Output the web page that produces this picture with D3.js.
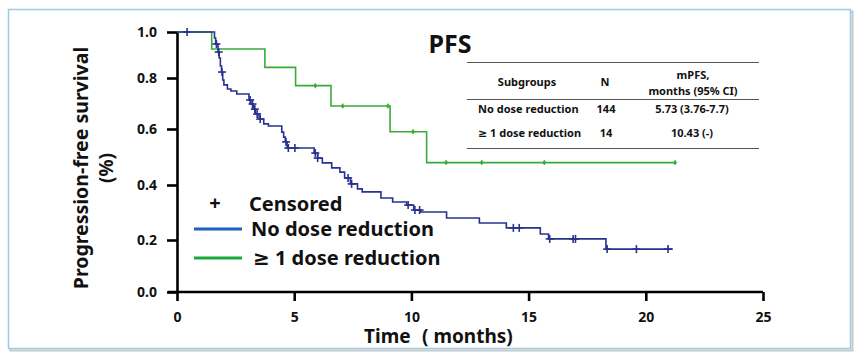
<!DOCTYPE html>
<html>
<head>
<meta charset="utf-8">
<script src="https://cdn.jsdelivr.net/npm/d3@7"></script>
<style>
  body { margin: 0; background: #fff; }
  text { font-family: "Noto Sans", "DejaVu Sans", sans-serif; font-weight: bold; fill: #111; }
  .tbl text { font-size: 11px; }
</style>
</head>
<body>
<div id="chart"></div>
<script>
// Kaplan-Meier steps: time (months) and survival
const noRedTimes = [0, 1.6, 1.65, 1.75, 1.8, 1.85, 1.9, 1.95, 2.0, 2.15, 2.3, 2.55, 3.07, 3.15, 3.25, 3.35, 3.5, 3.7, 3.9,
  4.47, 4.55, 4.62, 4.7, 5.85, 6.0, 6.2, 6.6, 6.95, 7.15, 7.4, 7.7, 7.9, 8.7, 9.2, 9.8, 10.1, 10.4, 11.5, 12.9,
  14.05, 15.5, 15.85, 18.3, 21.15];
const noRedSurv = [1.0, 0.974, 0.948, 0.913, 0.887, 0.852, 0.826, 0.792, 0.773, 0.757, 0.749, 0.737, 0.714, 0.698, 0.678,
  0.659, 0.639, 0.62, 0.612, 0.589, 0.571, 0.554, 0.532, 0.514, 0.496, 0.479, 0.461, 0.446, 0.425, 0.404, 0.386,
  0.375, 0.353, 0.338, 0.327, 0.309, 0.302, 0.28, 0.262, 0.244, 0.222, 0.204, 0.165, 0.165];
const noRedCensor = [0.43, 1.68, 1.78, 1.92, 3.12, 3.22, 3.32, 3.42, 3.55, 4.65, 4.75, 5.03, 5.9, 6.0, 7.3, 7.45,
  9.86, 10.15, 10.35, 14.35, 14.6, 15.9, 16.9, 17.0, 18.35, 19.6, 20.95];

const redTimes = [0, 1.48, 3.75, 5.06, 6.57, 9.09, 10.65, 21.25];
const redSurv = [1.0, 0.926, 0.846, 0.77, 0.69, 0.59, 0.48, 0.48];
const redCensor = [5.9, 7.07, 9.0, 10.07, 11.48, 13.0, 15.67, 21.25];

const xTicks = [0, 5, 10, 15, 20, 25];
const yTicks = [0, 0.2, 0.4, 0.6, 0.8, 1.0];

const tableHead = ["Subgroups", "N", "mPFS,", "months (95% CI)"];
const tableGroups = ["No dose reduction", "\u2265 1 dose reduction"];
const tableN = ["144", "14"];
const tableMPFS = ["5.73 (3.76-7.7)", "10.43 (-)"];

const legendLabels = ["Censored", "No dose reduction", "\u2265 1 dose reduction"];

const W = 865, H = 363;
const navy = "#26338f", green = "#3aaa3a";

const svg = d3.select("#chart").append("svg")
    .attr("width", W).attr("height", H);

// frame with soft shadow
svg.append("rect")
    .attr("x", 10.5).attr("y", 11.5).attr("width", 842).attr("height", 339)
    .attr("fill", "none").attr("stroke", "#c8c8c8").attr("stroke-width", 2);
svg.append("rect")
    .attr("x", 8.5).attr("y", 9.5).attr("width", 842).attr("height", 339)
    .attr("fill", "#fff").attr("stroke", "#9ccbe8").attr("stroke-width", 1.5);

// scales (y axis in the source is slightly uneven, so map each tick)
const x = d3.scaleLinear().domain([0, 25]).range([177, 763]);
const y = d3.scaleLinear().domain(yTicks).range([292, 240, 185, 129, 78, 32]);

// axes
const xAxis = svg.append("g")
    .attr("transform", "translate(0,292)")
    .call(d3.axisBottom(x).tickValues(xTicks).tickSize(9).tickSizeOuter(0).tickPadding(11));
const yAxis = svg.append("g")
    .attr("transform", "translate(177,0)")
    .call(d3.axisLeft(y).tickValues(yTicks).tickSize(10).tickSizeOuter(0).tickPadding(10)
      .tickFormat(d3.format(".1f")));
[xAxis, yAxis].forEach(a => {
  a.selectAll("path, line").attr("stroke", "#000").attr("stroke-width", 2.6);
  a.selectAll("text").style("font-size", "14px").attr("fill", "#111");
});
xAxis.select(".domain").attr("d", "M168,0H763");

// axis titles ("10" tick sits in the gap between the two parts)
svg.append("text")
    .attr("x", 364).attr("y", 343)
    .style("font-size", "19px")
    .text("Time");
svg.append("text")
    .attr("x", 422).attr("y", 343)
    .style("font-size", "19px")
    .text("( months)");
svg.append("text")
    .attr("transform", "translate(88,168) rotate(-90)")
    .attr("text-anchor", "middle")
    .style("font-size", "19.5px")
    .text("Progression-free survival");
svg.append("text")
    .attr("transform", "translate(113,168) rotate(-90)")
    .attr("text-anchor", "middle")
    .style("font-size", "19px")
    .text("(%)");

// title
svg.append("text")
    .attr("x", 450).attr("y", 53)
    .attr("text-anchor", "middle")
    .style("font-size", "25px")
    .text("PFS");

// survival curves
const line = d3.line()
    .x(d => x(d[0]))
    .y(d => y(d[1]))
    .curve(d3.curveStepAfter);

function survAt(times, surv, t) {
  const i = d3.bisectRight(times, t) - 1;
  return surv[Math.max(0, i)];
}

function drawCurve(times, surv, censor, color, plus) {
  svg.append("path")
      .datum(times.map((t, i) => [t, surv[i]]))
      .attr("fill", "none")
      .attr("stroke", color)
      .attr("stroke-width", 1.6)
      .attr("d", line);
  const marks = svg.append("g").selectAll("g")
      .data(censor)
      .enter().append("g")
      .attr("transform", t => `translate(${x(t)},${y(survAt(times, surv, t))})`);
  if (plus) {
    marks.append("line").attr("x1", 0).attr("x2", 0).attr("y1", -4).attr("y2", 4)
        .attr("stroke", color).attr("stroke-width", 1.6);
    marks.append("line").attr("x1", -4).attr("x2", 4).attr("y1", 0).attr("y2", 0)
        .attr("stroke", color).attr("stroke-width", 1.6);
  } else {
    marks.append("line").attr("x1", 0).attr("x2", 0).attr("y1", -2.5).attr("y2", 2.5)
        .attr("stroke", color).attr("stroke-width", 1.2);
    marks.append("circle").attr("r", 1.7).attr("fill", color);
  }
}

drawCurve(redTimes, redSurv, redCensor, green, false);
drawCurve(noRedTimes, noRedSurv, noRedCensor, navy, true);

// legend
const legend = svg.append("g");
legend.append("text")
    .attr("x", 215).attr("y", 210)
    .attr("text-anchor", "middle")
    .style("font-size", "20px")
    .text("+");
legend.append("text")
    .attr("x", 249).attr("y", 211)
    .style("font-size", "20px")
    .text(legendLabels[0]);
[["#1f5fc4", 229], ["#19a83a", 258]].forEach(([c, ly], i) => {
  legend.append("line")
      .attr("x1", 194).attr("x2", 242).attr("y1", ly).attr("y2", ly)
      .attr("stroke", c).attr("stroke-width", 3);
  legend.append("text")
      .attr("x", i === 0 ? 251 : 253).attr("y", ly + 7)
      .style("font-size", "20px")
      .text(legendLabels[i + 1]);
});

// table
const tbl = svg.append("g").attr("class", "tbl");
[62.5, 99.5, 148.5].forEach(ly => {
  tbl.append("line")
      .attr("x1", 467).attr("x2", 759).attr("y1", ly).attr("y2", ly)
      .attr("stroke", "#555").attr("stroke-width", 1.2);
});
tbl.append("text").attr("x", 527).attr("y", 86).attr("text-anchor", "middle").text(tableHead[0]);
tbl.append("text").attr("x", 605).attr("y", 86).attr("text-anchor", "middle").text(tableHead[1]);
tbl.append("text").attr("x", 693).attr("y", 79).attr("text-anchor", "middle").text(tableHead[2]);
tbl.append("text").attr("x", 693).attr("y", 95).attr("text-anchor", "middle").text(tableHead[3]);
tableGroups.forEach((g, i) => {
  const ry = 113 + i * 24;
  tbl.append("text").attr("x", 478).attr("y", ry).text(g);
  tbl.append("text").attr("x", 606).attr("y", ry).attr("text-anchor", "middle").text(tableN[i]);
  tbl.append("text").attr("x", 692).attr("y", ry).attr("text-anchor", "middle").text(tableMPFS[i]);
});
</script>
</body>
</html>
